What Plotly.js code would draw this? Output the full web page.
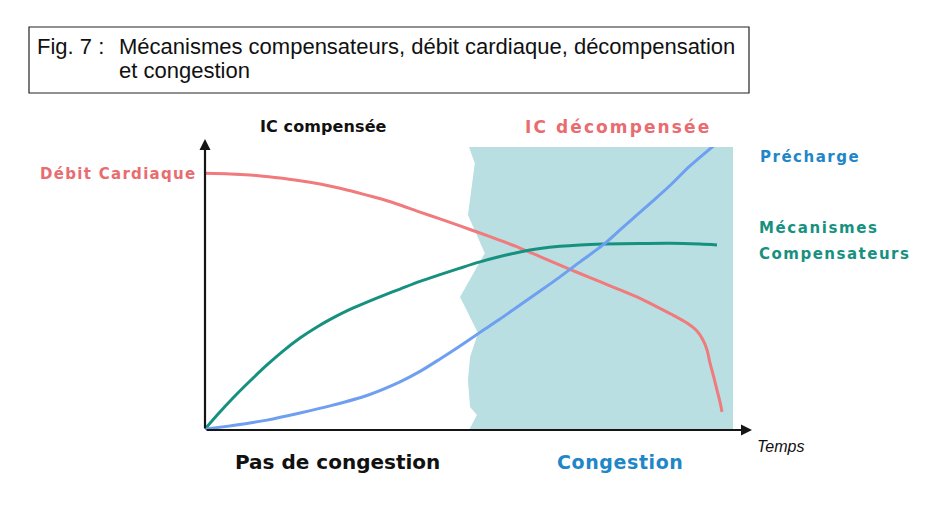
<!DOCTYPE html>
<html>
<head>
<meta charset="utf-8">
<script src="https://cdn.plot.ly/plotly-3.0.1.min.js"></script>
<style>
html,body{margin:0;padding:0;background:#fff;}
#chart{width:946px;height:512px;}
</style>
</head>
<body>
<div id="chart"></div>
<script>
// Time axis (0 = start, 100 = end of shaded zone), values in arbitrary units 0..100
var debitX = [0, 4.73, 8.52, 13.26, 17.99, 21.78, 25.57, 28.79, 31.82, 34.47, 36.93, 40.72, 44.51, 48.30, 52.08, 55.87, 59.66, 63.45, 67.23, 71.02, 74.81, 78.60, 82.39, 85.61, 88.45, 91.29, 93.18, 94.32, 95.08, 95.64, 96.40, 96.97, 97.54, 97.92];
var debitY = [90.7, 90.5, 90.1, 89.2, 88.1, 86.9, 85.4, 83.9, 82.4, 81.0, 79.5, 77.0, 74.6, 72.1, 69.6, 67.0, 64.3, 61.3, 58.3, 55.3, 52.4, 49.5, 46.5, 43.5, 40.8, 37.8, 35.0, 31.8, 28.3, 23.7, 18.4, 14.1, 9.9, 6.4];

var mecaX = [0, 2.65, 5.30, 8.52, 11.74, 14.77, 17.99, 21.21, 24.24, 27.46, 30.68, 33.71, 36.93, 40.72, 44.51, 48.30, 52.08, 55.87, 59.66, 63.45, 67.23, 71.02, 75.38, 82.39, 88.07, 93.75, 96.97];
var mecaY = [0.35, 6.0, 11.3, 17.3, 23.0, 27.9, 32.5, 36.4, 39.6, 42.6, 45.2, 47.5, 49.8, 52.5, 54.9, 57.2, 59.4, 61.3, 62.9, 64.1, 64.9, 65.4, 65.7, 65.9, 66.0, 65.7, 65.4];

var prechX = [0, 5.30, 11.74, 17.99, 24.24, 30.68, 36.93, 40.72, 44.51, 48.30, 52.08, 55.87, 59.66, 63.45, 67.23, 71.02, 75.38, 78.60, 81.82, 85.23, 88.07, 91.86, 96.97];
var prechY = [0.35, 1.6, 3.5, 6.0, 8.8, 12.2, 17.0, 20.7, 25.1, 29.7, 34.5, 39.2, 44.2, 49.1, 54.1, 59.4, 65.4, 70.7, 76.0, 81.6, 86.4, 93.3, 101.4];

// Congestion zone outline (jagged left border)
var shadeX = [50.0, 51.1, 49.8, 53.0, 48.3, 51.7, 50.2, 49.8, 50.2, 51.5, 50.2, 50.2, 100, 100];
var shadeY = [100, 94.3, 76.0, 62.5, 47.0, 34.3, 25.8, 17.7, 8.1, 5.3, 0.7, 0, 0, 100];

var figLabel = "Fig. 7 :";
var titleLine1 = "Mécanismes compensateurs, débit cardiaque, décompensation";
var titleLine2 = "et congestion";

var RED = "#f07a7c", REDT = "#e86c70", TEAL = "#17917f", BLUE = "#6f9ff0", BLUET = "#1f86c8", SHADE = "#b9dfe2";

// pixel helpers for label placement (plot area: x 205..733, y 147..430)
function QX(px){ return (px - 205) / 528; }
function QY(py){ return (430 - py) / 283; }

var sp = {shape: "spline", smoothing: 0.8};
var traces = [
  {x: shadeX, y: shadeY, type: "scatter", mode: "lines", fill: "toself", fillcolor: SHADE, line: {width: 0, color: SHADE}, hoverinfo: "skip"},
  {x: debitX, y: debitY, type: "scatter", mode: "lines", line: Object.assign({color: RED, width: 3}, sp), cliponaxis: false},
  {x: mecaX, y: mecaY, type: "scatter", mode: "lines", line: Object.assign({color: TEAL, width: 3}, sp), cliponaxis: false},
  {x: prechX, y: prechY, type: "scatter", mode: "lines", line: Object.assign({color: BLUE, width: 3}, sp), cliponaxis: false}
];

var LBL = "DejaVu Sans";
var spacing = {};
var annotations = [];
function lab(text, px, py, color, size, xanchor, fam, ls){
  if (ls) spacing[annotations.length] = ls;
  annotations.push({text: text, x: QX(px), y: QY(py), xref: "paper", yref: "paper", showarrow: false,
    xanchor: xanchor, yanchor: "middle", font: {family: fam || LBL, size: size, color: color}, align: "left"});
}

// axis arrows
annotations.push({x: QX(752), y: 0, ax: -(752 - 205), ay: 0, xref: "paper", yref: "paper", text: "", showarrow: true, arrowhead: 2, arrowsize: 1, arrowwidth: 2.2, arrowcolor: "#151515"});
annotations.push({x: 0, y: QY(139), ax: 0, ay: (430 - 139), xref: "paper", yref: "paper", text: "", showarrow: true, arrowhead: 2, arrowsize: 1, arrowwidth: 2.2, arrowcolor: "#151515"});

lab("<b>IC compensée</b>", 258, 127, "#111", 16, "left", null, 0.1);
lab("<b>IC décompensée</b>", 523, 127, REDT, 17, "left", null, 2.1);
lab("<b>Débit Cardiaque</b>", 38, 174, REDT, 15, "left", null, 1.3);
lab("<b>Précharge</b>", 758, 157, BLUET, 15, "left", null, 1.5);
lab("<b>Mécanismes</b>", 757, 228, TEAL, 15, "left", null, 1.6);
lab("<b>Compensateurs</b>", 757, 254, TEAL, 15, "left", null, 1.5);
lab("<b>Pas de congestion</b>", 233, 462, "#111", 20, "left");
lab("<b>Congestion</b>", 555, 462, BLUET, 19, "left", null, 0.6);
lab("<i>Temps</i>", 755, 446, "#111", 16, "left", "Liberation Sans");
lab(figLabel, 35, 47, "#111", 22, "left", "Liberation Sans");
lab(titleLine1, 117, 47, "#111", 22, "left", "Liberation Sans");
lab(titleLine2, 117, 70, "#111", 22, "left", "Liberation Sans");

// letter spacing for the spaced bitmap-like labels
var css = "";
Object.keys(spacing).forEach(function(i){
  css += 'g.annotation[data-index="' + i + '"] text{letter-spacing:' + spacing[i] + 'px;}\n';
});
var st = document.createElement("style"); st.textContent = css; document.head.appendChild(st);

var shapes = [
  {type: "rect", xref: "paper", yref: "paper", x0: QX(29), x1: QX(749), y0: QY(27), y1: QY(93), line: {color: "#222", width: 1.2}, fillcolor: "rgba(0,0,0,0)"}
];

var layout = {
  width: 946, height: 512,
  margin: {l: 205, r: 213, t: 147, b: 82, pad: 0},
  paper_bgcolor: "#fff", plot_bgcolor: "rgba(0,0,0,0)",
  showlegend: false,
  xaxis: {range: [0, 100], visible: false, fixedrange: true},
  yaxis: {range: [0, 100], visible: false, fixedrange: true},
  annotations: annotations,
  shapes: shapes
};

Plotly.newPlot("chart", traces, layout, {displayModeBar: false, staticPlot: true});
</script>
</body>
</html>
